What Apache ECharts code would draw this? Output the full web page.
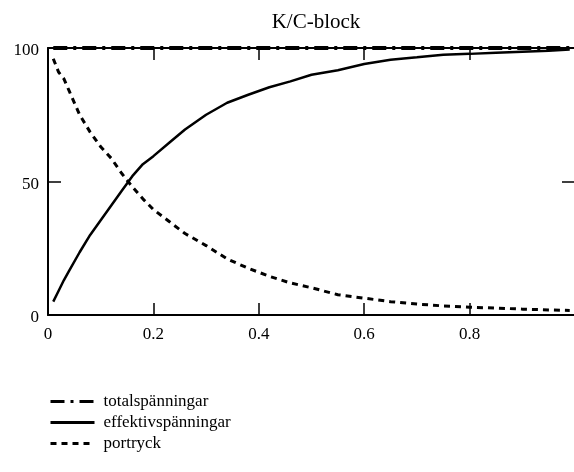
<!DOCTYPE html>
<html>
<head>
<meta charset="utf-8">
<script src="https://cdn.jsdelivr.net/npm/echarts@6/dist/echarts.min.js"></script>
<style>
  html, body { margin: 0; padding: 0; background: #fff; }
  #chart { width: 574px; height: 472px; }
</style>
</head>
<body>
<div id="chart"></div>
<script>
// Positions along the horizontal axis
const xValues = [0.01, 0.02, 0.03, 0.04, 0.06, 0.08, 0.10, 0.12, 0.14, 0.16,
                 0.18, 0.20, 0.23, 0.26, 0.30, 0.34, 0.38, 0.42, 0.46, 0.50,
                 0.55, 0.60, 0.65, 0.70, 0.75, 0.80, 0.85, 0.90, 0.95, 0.99];

// Total stress (constant)
const totalspanningar = [100, 100, 100, 100, 100, 100, 100, 100, 100, 100,
                         100, 100, 100, 100, 100, 100, 100, 100, 100, 100,
                         100, 100, 100, 100, 100, 100, 100, 100, 100, 100];

// Effective stress
const effektivspanningar = [5, 9, 13, 16.5, 23.5, 30, 35.5, 41, 46.5, 52,
                            56.5, 59.5, 64.5, 69.5, 75, 79.5, 82.5, 85.3, 87.5, 90,
                            91.7, 94, 95.6, 96.5, 97.5, 97.8, 98.2, 98.6, 99, 99.4];

// Pore pressure
const portryck = [96, 91, 88.5, 84, 75, 68.5, 63, 58.7, 53, 48,
                  43.5, 39.5, 35, 30.5, 26, 21, 17.5, 14.5, 12, 10.2,
                  7.6, 6.3, 5, 4.1, 3.4, 2.9, 2.6, 2.2, 1.9, 1.7];

const xTickValues = [0, 0.2, 0.4, 0.6, 0.8];
const yTickValues = [0, 50, 100];

const serif = 'Liberation Serif';
const pairs = (ys) => xValues.map((x, i) => [x, ys[i]]);

const chart = echarts.init(document.getElementById('chart'), null, { renderer: 'canvas' });

const tickStyle = { color: '#000', width: 1.5 };

chart.setOption({
  animation: false,
  backgroundColor: '#fff',
  title: {
    text: 'K/C-block',
    left: 311,
    top: 7,
    textAlign: 'center',
    textStyle: { fontFamily: serif, fontSize: 21, fontWeight: 'normal', color: '#000' }
  },
  legend: {
    orient: 'vertical',
    left: 44,
    top: 388,
    itemWidth: 44,
    itemHeight: 14,
    itemGap: 4,
    itemStyle: { opacity: 0 },
    lineStyle: { width: 3 },
    textStyle: { fontFamily: serif, fontSize: 17, color: '#000', padding: [0, 0, 0, 4] },
    data: ['totalspänningar', 'effektivspänningar', 'portryck']
  },
  grid: { left: 48, right: -1, top: 48, bottom: 157, outerBoundsMode: 'none', containLabel: false },
  xAxis: [
    {
      type: 'value', min: 0, max: 1, interval: 0.2,
      splitLine: { show: false },
      axisLine: { onZero: false, lineStyle: { color: '#000', width: 2 } },
      axisTick: { inside: true, length: 12, lineStyle: tickStyle },
      axisLabel: {
        fontFamily: serif, fontSize: 17, color: '#000', margin: 11,
        formatter: (v) => (xTickValues.some(t => Math.abs(t - v) < 1e-9) ? String(+v.toFixed(1)) : '')
      }
    },
    {
      type: 'value', min: 0, max: 1, interval: 0.2, position: 'top',
      splitLine: { show: false },
      axisLine: { show: true, onZero: false, lineStyle: { color: '#000', width: 2 } },
      axisTick: { inside: true, length: 12, lineStyle: tickStyle },
      axisLabel: { show: false }
    }
  ],
  yAxis: [
    {
      type: 'value', min: 0, max: 100, interval: 50,
      splitLine: { show: false },
      axisLine: { show: true, onZero: false, lineStyle: { color: '#000', width: 2 } },
      axisTick: { show: true, inside: true, length: 13, lineStyle: tickStyle },
      axisLabel: {
        margin: 9,
        formatter: (v) => (yTickValues.includes(v) ? '{v|' + v + '}' : ''),
        rich: {
          v: { fontFamily: serif, fontSize: 17, color: '#000', padding: [6, 0, 0, 0] }
        }
      }
    },
    {
      type: 'value', min: 0, max: 100, interval: 50, position: 'right',
      splitLine: { show: false },
      axisLine: { show: false, onZero: false },
      axisTick: { show: true, inside: true, length: 13, lineStyle: tickStyle },
      axisLabel: { show: false }
    }
  ],
  series: [
    {
      name: 'totalspänningar', type: 'line', data: pairs(totalspanningar),
      showSymbol: false, symbol: 'none', clip: false,
      lineStyle: { color: '#000', width: 4, type: [14, 6, 3, 6] },
      itemStyle: { color: '#000' }
    },
    {
      name: 'effektivspänningar', type: 'line', data: pairs(effektivspanningar),
      showSymbol: false, symbol: 'none',
      lineStyle: { color: '#000', width: 2.5, type: 'solid' },
      itemStyle: { color: '#000' }
    },
    {
      name: 'portryck', type: 'line', data: pairs(portryck),
      showSymbol: false, symbol: 'none',
      lineStyle: { color: '#000', width: 3, type: [6, 5] },
      itemStyle: { color: '#000' }
    }
  ]
});
</script>
</body>
</html>
